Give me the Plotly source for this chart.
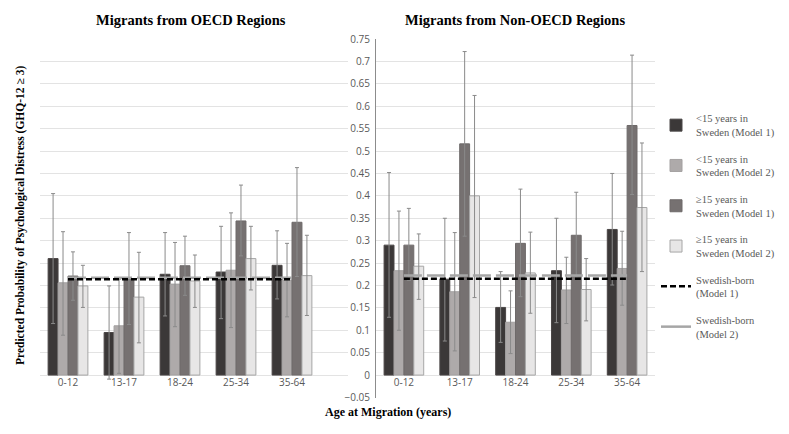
import plotly.graph_objects as go

# page offset (browser body margin) compensation
OFF = 8
W, H = 789 - OFF, 434 - OFF


def px(x):
    return (x - OFF) / W


def py(y):
    return 1 - (y - OFF) / H


categories = ["0-12", "13-17", "18-24", "25-34", "35-64"]

# OECD regions: values, upper CI, lower CI
oecd_lt15_m1 = [0.260, 0.095, 0.225, 0.230, 0.245]
oecd_lt15_m1_hi = [0.405, 0.199, 0.318, 0.332, 0.322]
oecd_lt15_m1_lo = [0.115, -0.009, 0.132, 0.126, 0.170]

oecd_lt15_m2 = [0.206, 0.110, 0.203, 0.234, 0.212]
oecd_lt15_m2_hi = [0.320, 0.214, 0.296, 0.362, 0.294]
oecd_lt15_m2_lo = [0.089, 0.004, 0.108, 0.106, 0.130]

oecd_ge15_m1 = [0.221, 0.214, 0.244, 0.344, 0.341]
oecd_ge15_m1_hi = [0.275, 0.318, 0.310, 0.424, 0.463]
oecd_ge15_m1_lo = [0.167, 0.113, 0.178, 0.266, 0.220]

oecd_ge15_m2 = [0.199, 0.174, 0.210, 0.260, 0.222]
oecd_ge15_m2_hi = [0.245, 0.274, 0.268, 0.332, 0.312]
oecd_ge15_m2_lo = [0.151, 0.072, 0.151, 0.190, 0.133]

oecd_swedish_m1 = [0.214] * 5
oecd_swedish_m2 = [0.217] * 5

# Non-OECD regions
non_lt15_m1 = [0.290, 0.214, 0.151, 0.233, 0.325]
non_lt15_m1_hi = [0.452, 0.350, 0.231, 0.350, 0.450]
non_lt15_m1_lo = [0.129, 0.076, 0.073, 0.117, 0.201]

non_lt15_m2 = [0.233, 0.186, 0.118, 0.190, 0.238]
non_lt15_m2_hi = [0.366, 0.318, 0.188, 0.263, 0.321]
non_lt15_m2_lo = [0.100, 0.054, 0.048, 0.115, 0.156]

non_ge15_m1 = [0.290, 0.516, 0.294, 0.312, 0.557]
non_ge15_m1_hi = [0.372, 0.722, 0.415, 0.408, 0.714]
non_ge15_m1_lo = [0.211, 0.310, 0.175, 0.219, 0.403]

non_ge15_m2 = [0.243, 0.400, 0.228, 0.191, 0.374]
non_ge15_m2_hi = [0.315, 0.624, 0.319, 0.260, 0.518]
non_ge15_m2_lo = [0.169, 0.173, 0.138, 0.121, 0.231]

non_swedish_m1 = [0.215] * 5
non_swedish_m2 = [0.222] * 5

series_names = [
    "&lt;15 years in<br>Sweden (Model 1)",
    "&lt;15 years in<br>Sweden (Model 2)",
    "≥15 years in<br>Sweden (Model 1)",
    "≥15 years in<br>Sweden (Model 2)",
]
line_names = ["Swedish-born<br>(Model 1)", "Swedish-born<br>(Model 2)"]

fills = ["#3b3838", "#aeaaaa", "#767171", "#e7e6e6"]
edges = ["#4a4646", "#a3a0a0", "#6e6a6a", "#a6a6a6"]
err_color = "#8a8a8a"

fig = go.Figure()

panels = [
    ("x", "y", [
        (oecd_lt15_m1, oecd_lt15_m1_hi, oecd_lt15_m1_lo),
        (oecd_lt15_m2, oecd_lt15_m2_hi, oecd_lt15_m2_lo),
        (oecd_ge15_m1, oecd_ge15_m1_hi, oecd_ge15_m1_lo),
        (oecd_ge15_m2, oecd_ge15_m2_hi, oecd_ge15_m2_lo),
    ], oecd_swedish_m1, oecd_swedish_m2, True),
    ("x2", "y2", [
        (non_lt15_m1, non_lt15_m1_hi, non_lt15_m1_lo),
        (non_lt15_m2, non_lt15_m2_hi, non_lt15_m2_lo),
        (non_ge15_m1, non_ge15_m1_hi, non_ge15_m1_lo),
        (non_ge15_m2, non_ge15_m2_hi, non_ge15_m2_lo),
    ], non_swedish_m1, non_swedish_m2, False),
]

for xa, ya, series, sw1, sw2, show in panels:
    for i, (vals, hi, lo) in enumerate(series):
        fig.add_trace(go.Bar(
            x=categories, y=vals, xaxis=xa, yaxis=ya,
            name=series_names[i], showlegend=show, legendgroup=f"g{i}",
            marker=dict(color=fills[i], line=dict(color=edges[i], width=1)),
            error_y=dict(type="data", symmetric=False,
                         array=[h - v for h, v in zip(hi, vals)],
                         arrayminus=[v - l for v, l in zip(vals, lo)],
                         color=err_color, thickness=1, width=2),
        ))
    fig.add_trace(go.Scatter(
        x=categories, y=sw2, xaxis=xa, yaxis=ya, mode="lines",
        name=line_names[1], showlegend=False, legendgroup="g5",
        line=dict(color="#a6a6a6", width=2.5, dash="18px,5px"),
    ))
    fig.add_trace(go.Scatter(
        x=categories, y=sw1, xaxis=xa, yaxis=ya, mode="lines",
        name=line_names[0], showlegend=show, legendgroup="g4",
        line=dict(color="#000000", width=2.5, dash="6px,3px"),
    ))

# legend entry for Model 2 line in the right order
fig.add_trace(go.Scatter(
    x=[None], y=[None], xaxis="x", yaxis="y", mode="lines",
    name=line_names[1], showlegend=True, legendgroup="g5",
    line=dict(color="#a6a6a6", width=2.5),
))

ydom = [py(397.5), py(39)]
tickfont = dict(family="Open Sans, Liberation Sans, sans-serif", size=10, color="#595959")
grid = "#e3e3e3"
axis_y0 = py(375)

fig.update_layout(
    width=W, height=H,
    margin=dict(l=0, r=0, t=0, b=0, pad=0, autoexpand=False),
    paper_bgcolor="white", plot_bgcolor="white",
    barmode="group", bargap=0.29, bargroupgap=0,
    showlegend=True,
    legend=dict(
        x=px(656), y=py(105), xanchor="left", yanchor="top",
        font=dict(family="Liberation Serif, serif", size=10.5, color="#595959"),
        tracegroupgap=10, traceorder="grouped",
        bgcolor="rgba(0,0,0,0)",
    ),
    xaxis=dict(domain=[px(40), px(348)], range=[-0.5, 5.0], anchor="free",
               position=axis_y0, showgrid=False, showline=False, ticks="",
               tickfont=tickfont, zeroline=False),
    yaxis=dict(domain=ydom, range=[-0.05, 0.75], dtick=0.05, anchor="x",
               showticklabels=False, showgrid=True, gridcolor=grid, gridwidth=1,
               zeroline=True, zerolinecolor=grid, zerolinewidth=1, showline=False),
    xaxis2=dict(domain=[px(376), px(655)], range=[-0.5, 4.5], anchor="free",
                position=axis_y0, showgrid=False, showline=False, ticks="",
                tickfont=tickfont, zeroline=False),
    yaxis2=dict(domain=ydom, range=[-0.05, 0.75], dtick=0.05, anchor="x2",
                showticklabels=True, tickfont=tickfont, showgrid=True,
                gridcolor=grid, gridwidth=1, zeroline=True, zerolinecolor=grid,
                zerolinewidth=1, showline=True, linecolor="#8c8c8c", linewidth=1,
                ticks="", ticklabelstandoff=3),
    annotations=[
        dict(text="<b>Migrants from OECD Regions</b>", x=px(191), y=py(20),
             xref="paper", yref="paper", showarrow=False, xanchor="center",
             yanchor="middle", font=dict(family="Liberation Serif, serif", size=14.5, color="#000")),
        dict(text="<b>Migrants from Non-OECD Regions</b>", x=px(515), y=py(20),
             xref="paper", yref="paper", showarrow=False, xanchor="center",
             yanchor="middle", font=dict(family="Liberation Serif, serif", size=14.5, color="#000")),
        dict(text="<b>Predicted Probability of Psychological Distress (GHQ-12 ≥ 3)</b>",
             x=px(21), y=py(216), xref="paper", yref="paper", showarrow=False,
             textangle=-90, xanchor="center", yanchor="middle",
             font=dict(family="Liberation Serif, serif", size=11.5, color="#000")),
        dict(text="<b>Age at Migration (years)</b>", x=px(388), y=py(412),
             xref="paper", yref="paper", showarrow=False, xanchor="center",
             yanchor="middle", font=dict(family="Liberation Serif, serif", size=12, color="#000")),
    ],
)

fig.write_html("out.html")
